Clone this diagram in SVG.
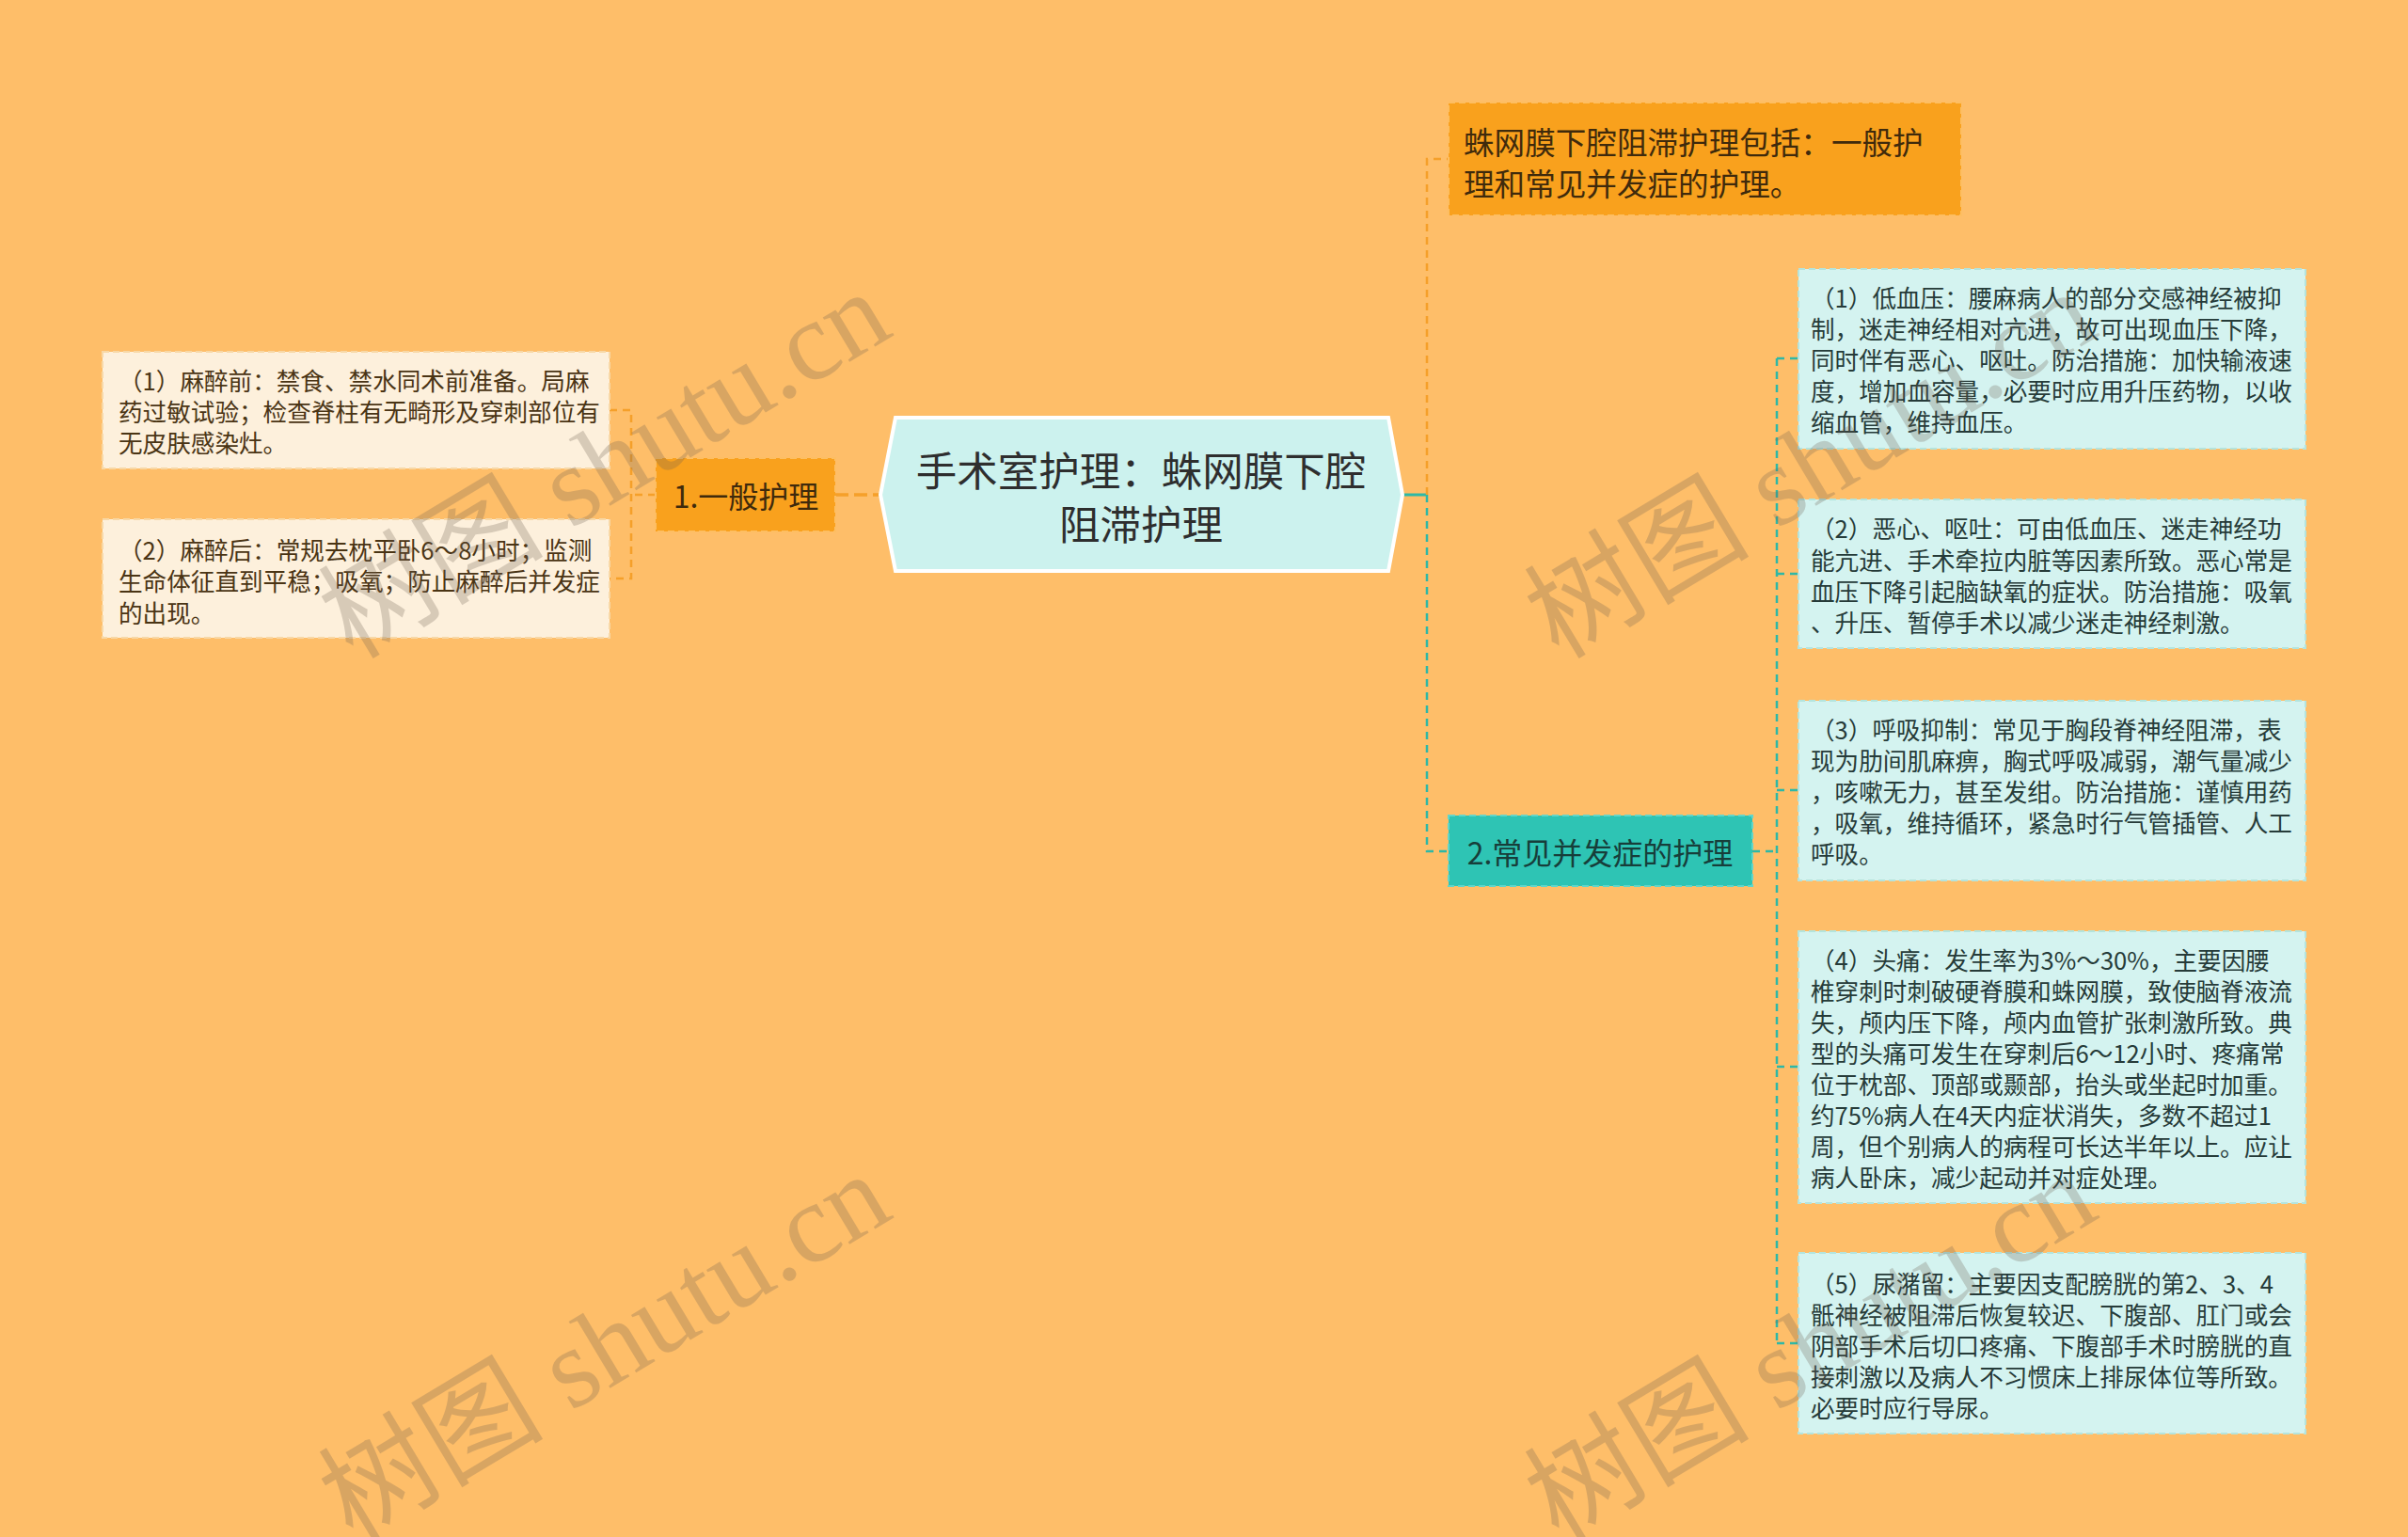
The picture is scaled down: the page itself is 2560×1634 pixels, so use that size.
<svg xmlns="http://www.w3.org/2000/svg" width="2560" height="1634" viewBox="0 0 2560 1634">
<defs>
<style>
text{font-family:"Noto Sans CJK SC","Noto Sans",sans-serif;dominant-baseline:central}
.bg{fill:#FEBE69}
.root{fill:#CCF2EE;stroke:#FFFFFF;stroke-width:4}
.rootT{font-size:43.5px;fill:#2E2E2E;text-anchor:middle}
.orange{fill:#F9A11D;stroke:#FDBE62;stroke-width:2;stroke-dasharray:7 4}
.teal{fill:#2EC4B4;stroke:#62D6CA;stroke-width:2;stroke-dasharray:7 4}
.mainT{font-size:32px}
.oT{fill:#3F2A0C}
.tT{fill:#173E3A}
.lleaf{fill:#FDF0DC;stroke:#F8D8A6;stroke-width:2;stroke-dasharray:7 4}
.rleaf{fill:#D4F3F0;stroke:#B4E4DD;stroke-width:2;stroke-dasharray:7 4}
.leafT{font-size:25.6px}
.lT{fill:#4A3414}
.rT{fill:#263B39}
.cO{fill:none;stroke:#F5A02A;stroke-width:2.5;stroke-dasharray:8 6}
.cT{fill:none;stroke:#2EB8A6;stroke-width:2.5;stroke-dasharray:8 6}
.wm{font-family:"Liberation Serif","Noto Sans CJK SC",serif;font-size:120px;fill:#6E5F52;opacity:0.26;dominant-baseline:alphabetic}
</style>
</defs>
<rect class="bg" x="0" y="0" width="2560" height="1634"/>

<g id="connectors">
<path class="cO" d="M888,526 H936" style="stroke-width:3.5;stroke-dasharray:14 6"/>
<path class="cO" d="M697,526 H671 M648,436 H671 V615 H648"/>
<path class="cT" d="M1491,526 H1517" style="stroke-dasharray:none;stroke-width:3"/>
<path class="cO" d="M1517,526 V169 H1540"/>
<path class="cT" d="M1517,526 V905 H1540"/>
<path class="cT" d="M1863,905 H1889 M1889,381 V1428 M1889,381 H1912 M1889,610 H1912 M1889,840 H1912 M1889,1134 H1912 M1889,1428 H1912"/>
</g>

<g id="root">
<polygon class="root" points="936,526 952,444 1476,444 1491,526 1476,607 952,607"/>
<text class="rootT" x="1213" y="498">手术室护理：蛛网膜下腔</text>
<text class="rootT" x="1213" y="555">阻滞护理</text>
</g>

<g id="n-general">
<rect class="orange" x="697" y="487" width="191" height="78"/>
<text class="mainT oT" x="793" y="526" text-anchor="middle">1.一般护理</text>
</g>

<g id="n-summary">
<rect class="orange" x="1540" y="109" width="545" height="120"/>
<text class="mainT oT" x="1556" y="149" style="font-size:32.6px">蛛网膜下腔阻滞护理包括：一般护</text>
<text class="mainT oT" x="1556" y="193" style="font-size:32.6px">理和常见并发症的护理。</text>
</g>

<g id="n-complication">
<rect class="teal" x="1540" y="867" width="323" height="75"/>
<text class="mainT tT" x="1701" y="905" text-anchor="middle">2.常见并发症的护理</text>
</g>

<g id="l-1">
<rect class="lleaf" x="109" y="374" width="539" height="124"/>
<text class="leafT lT" x="126" y="403">（1）麻醉前：禁食、禁水同术前准备。局麻</text>
<text class="leafT lT" x="126" y="436">药过敏试验；检查脊柱有无畸形及穿刺部位有</text>
<text class="leafT lT" x="126" y="469">无皮肤感染灶。</text>
</g>

<g id="l-2">
<rect class="lleaf" x="109" y="552" width="539" height="126"/>
<text class="leafT lT" x="126" y="583">（2）麻醉后：常规去枕平卧6～8小时；监测</text>
<text class="leafT lT" x="126" y="616">生命体征直到平稳；吸氧；防止麻醉后并发症</text>
<text class="leafT lT" x="126" y="650">的出现。</text>
</g>

<g id="r-1">
<rect class="rleaf" x="1912" y="286" width="539" height="191"/>
<text class="leafT rT" x="1925" y="315">（1）低血压：腰麻病人的部分交感神经被抑</text>
<text class="leafT rT" x="1925" y="348">制，迷走神经相对亢进，故可出现血压下降，</text>
<text class="leafT rT" x="1925" y="381">同时伴有恶心、呕吐。防治措施：加快输液速</text>
<text class="leafT rT" x="1925" y="414">度，增加血容量，必要时应用升压药物，以收</text>
<text class="leafT rT" x="1925" y="447">缩血管，维持血压。</text>
</g>

<g id="r-2">
<rect class="rleaf" x="1912" y="531" width="539" height="158"/>
<text class="leafT rT" x="1925" y="560">（2）恶心、呕吐：可由低血压、迷走神经功</text>
<text class="leafT rT" x="1925" y="594">能亢进、手术牵拉内脏等因素所致。恶心常是</text>
<text class="leafT rT" x="1925" y="627">血压下降引起脑缺氧的症状。防治措施：吸氧</text>
<text class="leafT rT" x="1925" y="660">、升压、暂停手术以减少迷走神经刺激。</text>
</g>

<g id="r-3">
<rect class="rleaf" x="1912" y="745" width="539" height="191"/>
<text class="leafT rT" x="1925" y="774">（3）呼吸抑制：常见于胸段脊神经阻滞，表</text>
<text class="leafT rT" x="1925" y="807">现为肋间肌麻痹，胸式呼吸减弱，潮气量减少</text>
<text class="leafT rT" x="1925" y="840">，咳嗽无力，甚至发绀。防治措施：谨慎用药</text>
<text class="leafT rT" x="1925" y="873">，吸氧，维持循环，紧急时行气管插管、人工</text>
<text class="leafT rT" x="1925" y="906">呼吸。</text>
</g>

<g id="r-4">
<rect class="rleaf" x="1912" y="990" width="539" height="289"/>
<text class="leafT rT" x="1925" y="1019">（4）头痛：发生率为3%～30%，主要因腰</text>
<text class="leafT rT" x="1925" y="1052">椎穿刺时刺破硬脊膜和蛛网膜，致使脑脊液流</text>
<text class="leafT rT" x="1925" y="1085">失，颅内压下降，颅内血管扩张刺激所致。典</text>
<text class="leafT rT" x="1925" y="1118">型的头痛可发生在穿刺后6～12小时、疼痛常</text>
<text class="leafT rT" x="1925" y="1151">位于枕部、顶部或颞部，抬头或坐起时加重。</text>
<text class="leafT rT" x="1925" y="1184">约75%病人在4天内症状消失，多数不超过1</text>
<text class="leafT rT" x="1925" y="1217">周，但个别病人的病程可长达半年以上。应让</text>
<text class="leafT rT" x="1925" y="1250">病人卧床，减少起动并对症处理。</text>
</g>

<g id="r-5">
<rect class="rleaf" x="1912" y="1332" width="539" height="192"/>
<text class="leafT rT" x="1925" y="1363">（5）尿潴留：主要因支配膀胱的第2、3、4</text>
<text class="leafT rT" x="1925" y="1396">骶神经被阻滞后恢复较迟、下腹部、肛门或会</text>
<text class="leafT rT" x="1925" y="1429">阴部手术后切口疼痛、下腹部手术时膀胱的直</text>
<text class="leafT rT" x="1925" y="1462">接刺激以及病人不习惯床上排尿体位等所致。</text>
<text class="leafT rT" x="1925" y="1495">必要时应行导尿。</text>
</g>

<g id="watermark">
<text class="wm" transform="translate(375,702) rotate(-31)">树图 shutu.cn</text>
<text class="wm" transform="translate(375,1640) rotate(-31)">树图 shutu.cn</text>
<text class="wm" transform="translate(1657,702) rotate(-31)">树图 shutu.cn</text>
<text class="wm" transform="translate(1657,1640) rotate(-31)">树图 shutu.cn</text>
</g>
</svg>
